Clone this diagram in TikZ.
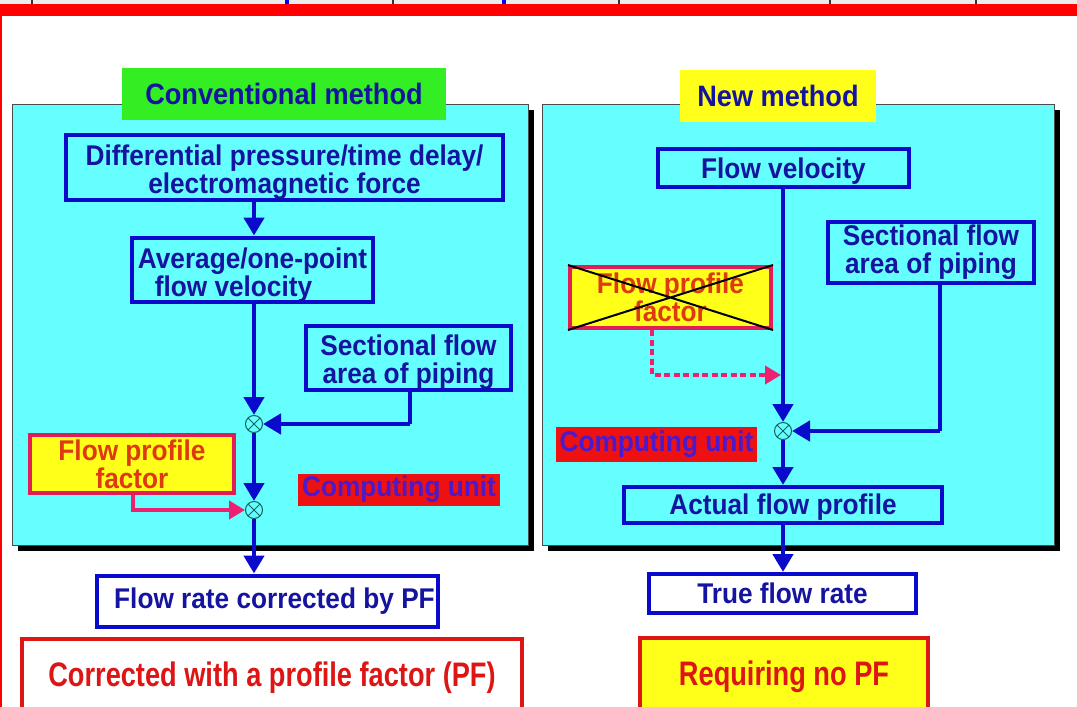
\documentclass[tikz,border=0pt]{standalone}
\usepackage{fontspec}
\setmainfont{Liberation Sans}[FakeStretch=0.92]
\newfontfamily\narrowf{Liberation Sans}[FakeStretch=0.8]
\usetikzlibrary{arrows.meta}
\definecolor{cyanbg}{HTML}{66FFFF}
\definecolor{bxblue}{HTML}{0A0ACC}
\definecolor{txnavy}{HTML}{1414A0}
\definecolor{ttlgreen}{HTML}{33EE22}
\definecolor{ylw}{HTML}{FFFF1A}
\definecolor{crim}{HTML}{E01E55}
\definecolor{orng}{HTML}{DD3A10}
\definecolor{pnk}{HTML}{EE2070}
\definecolor{rd}{HTML}{EE1111}
\definecolor{cupurple}{HTML}{4A1ACC}
\definecolor{btred}{HTML}{DD1515}
\definecolor{stripgray}{HTML}{ECECEC}
\definecolor{teal}{HTML}{106060}
\tikzset{
  txt/.style={font=\fontsize{28.5}{28}\selectfont\bfseries, align=center, inner sep=0pt},
  panel/.style={draw=black!70, line width=0.8pt, fill=cyanbg},
  bluebox/.style={txt, draw=bxblue, line width=4pt, text=txnavy},
  ylwbox/.style={txt, draw=crim, line width=4pt, fill=ylw, text=orng},
  cubox/.style={txt, fill=rd, text=cupurple},
  bigred/.style={txt, draw=btred, line width=4pt, text=btred, font=\narrowf\fontsize{34}{34}\selectfont\bfseries},
  ttl/.style={txt, text=txnavy, font=\fontsize{29.5}{30}\selectfont\bfseries},
  mult/.style={circle, draw=teal, line width=1pt, fill=cyanbg, minimum size=17pt, inner sep=0pt,
    path picture={\draw[teal, line width=1pt] (path picture bounding box.north west) -- (path picture bounding box.south east)
      (path picture bounding box.north east) -- (path picture bounding box.south west);}},
  flow/.style={draw=bxblue, line width=4.5pt, -{Triangle[length=18pt,width=20pt]}},
  flowline/.style={draw=bxblue, line width=4.5pt},
  pflow/.style={draw=pnk, line width=4pt, -{Triangle[length=16pt,width=18pt]}},
}
\begin{document}
\begin{tikzpicture}[x=1pt, y=-1pt]
\useasboundingbox (0,0) rectangle (1077,707);
% top strip
\fill[stripgray] (0,0) rectangle (1077,3.5);
\foreach \xx in {32,393,619,830,976} \fill[black!80] (\xx-0.8,0) rectangle (\xx+0.8,3.5);
\foreach \xx in {287,504} \fill[blue] (\xx-2,0) rectangle (\xx+2,3.5);
\fill[red] (0,3.5) rectangle (1077,16);
\fill[red] (0,16) rectangle (2.2,707);

% ---------- left panel ----------
\fill[black] (18,110) rectangle (534,551);
\node[panel, minimum width=516pt, minimum height=441pt, inner sep=0pt] (lpanel) at (270,324.5) {};
\node[ttl, fill=ttlgreen, minimum width=324pt, minimum height=52pt] (ltitle) at (284,94) {Conventional method};
\node[bluebox, minimum width=437pt, minimum height=64pt] (ldiff) at (284.5,167.5) {\rule{0pt}{31pt}Differential pressure/time delay/\\electromagnetic force};
\node[bluebox, minimum width=241pt, minimum height=62pt] (lavg) at (252.5,270) {\rule{0pt}{31pt}Average/one-point\\flow velocity\hspace*{38pt}};
\node[bluebox, minimum width=205pt, minimum height=60pt] (lsec) at (408.5,358) {\rule{0pt}{30pt}Sectional flow\\area of piping};
\node[ylwbox, minimum width=204pt, minimum height=58pt] (lfpf) at (132,464) {Flow profile\\factor};
\node[cubox, minimum width=202pt, minimum height=32pt] (lcu) at (399,489.5) {Computing unit};
\node[mult] (m1) at (254,424) {};
\node[mult] (m2) at (254,510) {};
\coordinate (l1) at (410,424);
\coordinate (p1) at (133,510);
\node[bluebox, fill=white, minimum width=341pt, minimum height=51pt] (lrate) at (267.5,601) {\hspace*{14pt}Flow rate corrected by PF};
\node[bigred, fill=white, minimum width=500pt, minimum height=72pt] (lbot) at (272,675) {\rule{0pt}{30pt}Corrected with a profile factor (PF)};

\draw[flow] (ldiff.south -| m1) -- (lavg.north -| m1);
\draw[flow] (lavg.south -| m1) -- (m1.north);
\draw[flowline] (lsec.south -| l1) -- (l1);
\draw[flow] (l1) -- (m1.east);
\draw[flow] (m1.south) -- (m2.north);
\draw[pflow] (lfpf.south -| p1) -- (p1) -- (m2.west);
\draw[flow] (m2.south) -- (lrate.north -| m2);

% ---------- right panel ----------
\fill[black] (548,110) rectangle (1060,551);
\node[panel, minimum width=512pt, minimum height=441pt, inner sep=0pt] (rpanel) at (798,324.5) {};
\node[ttl, fill=ylw, minimum width=196pt, minimum height=52pt] (rtitle) at (778,96) {New method};
\node[bluebox, minimum width=251pt, minimum height=38pt] (rvel) at (783.5,168) {\rule{0pt}{26pt}Flow velocity};
\node[bluebox, minimum width=206pt, minimum height=61pt] (rsec) at (931,252.5) {Sectional flow\\area of piping};
\node[ylwbox, minimum width=201pt, minimum height=61pt] (rfpf) at (670.5,297.5) {Flow profile\\factor};
\draw[black, line width=2pt] (rfpf.north west) -- (rfpf.south east) (rfpf.north east) -- (rfpf.south west);
\node[cubox, minimum width=201pt, minimum height=35pt] (rcu) at (656.5,444.5) {Computing unit};
\node[mult] (m3) at (783,431) {};
\coordinate (r1) at (940,431);
\coordinate (q1) at (652,375);
\coordinate (q2) at (781,375);
\node[bluebox, minimum width=318pt, minimum height=36pt] (ract) at (783,505) {\rule{0pt}{25pt}Actual flow profile};
\node[bluebox, fill=white, minimum width=267pt, minimum height=39pt] (rtrue) at (782.5,593.5) {True flow rate};
\node[bigred, fill=ylw, minimum width=288pt, minimum height=72pt] (rbot) at (784,674) {\rule{0pt}{30pt}Requiring no PF};

\draw[flow] (rvel.south -| m3) -- (m3.north);
\draw[flowline] (rsec.south -| r1) -- (r1);
\draw[flow] (r1) -- (m3.east);
\draw[pflow, dash pattern=on 6pt off 3.5pt] (rfpf.south -| q1) -- (q1) -- (q2);
\draw[flow] (m3.south) -- (ract.north -| m3);
\draw[flow] (ract.south -| m3) -- (rtrue.north -| m3);
\end{tikzpicture}
\end{document}
